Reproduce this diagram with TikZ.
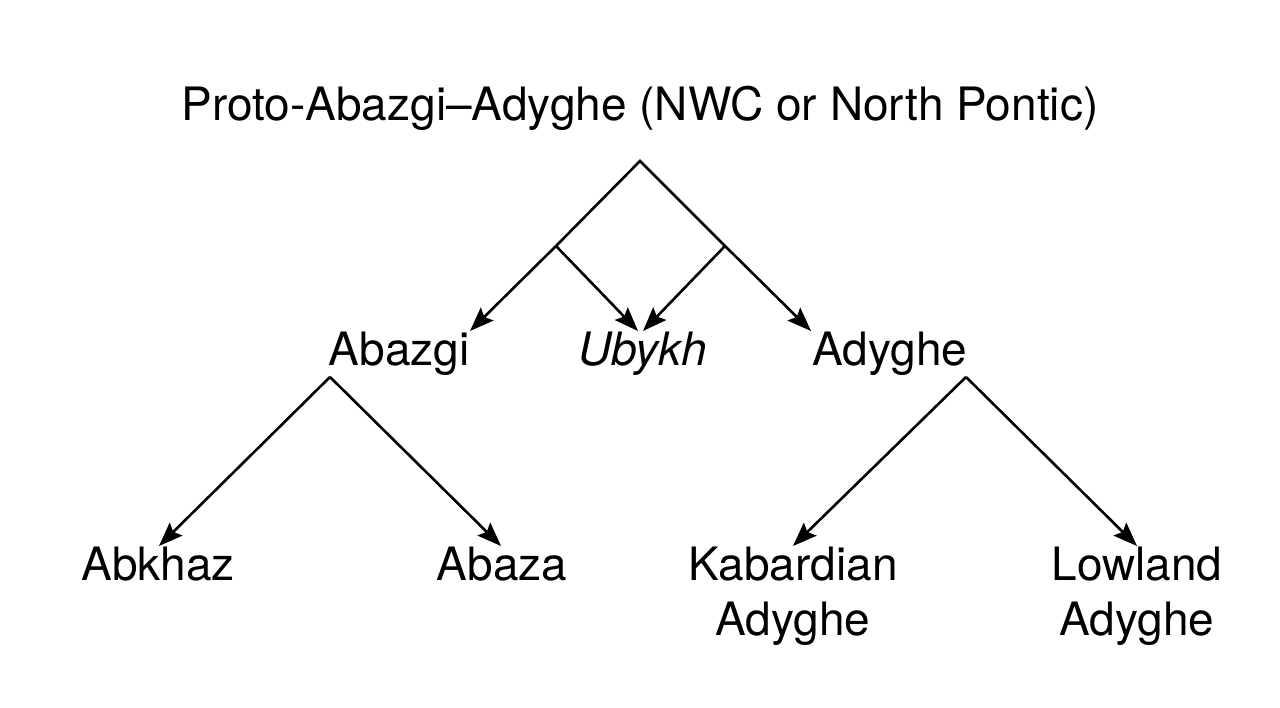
\documentclass[tikz,border=0pt]{standalone}
\usepackage{fontspec}
\setmainfont{TeX Gyre Heros}
\usetikzlibrary{arrows.meta}
\begin{document}
\begin{tikzpicture}[x=1pt,y=-1pt,
  lbl/.style={anchor=base,inner sep=0pt,font=\fontsize{46}{55}\selectfont,align=center},
  conn/.style={line width=2.6pt,line join=miter},
  arr/.style={conn,-{Stealth[length=24pt,width=18pt,inset=4pt]}}]
\useasboundingbox (0,0) rectangle (1280,708);
\node[lbl] (title) at (640,121) {Proto-Abazgi–Adyghe (NWC or North Pontic)};
\node[lbl] (abazgi) at (399,366) {Abazgi};
\node[lbl] (ubykh) at (643,366) {\itshape Ubykh};
\node[lbl] (adyghe) at (890,366) {Adyghe};
\node[lbl] (abkhaz) at (158,580) {Abkhaz};
\node[lbl] (abaza) at (502,580) {Abaza};
\node[lbl] (kabardian) at (793,635) {Kabardian\\Adyghe};
\node[lbl] (lowland) at (1137,635) {Lowland\\Adyghe};
\coordinate (apex) at (640,161);
\coordinate (bl) at (556,246);
\coordinate (br) at (725,246);
\coordinate (tabazgi) at (470,331);
\coordinate (tubl) at (638,331);
\coordinate (tubr) at (643,331);
\coordinate (tadyghe) at (811,331);
\coordinate (sabazgi) at (330,377);
\coordinate (sadyghe) at (966,377);
\coordinate (tabkhaz) at (159,546);
\coordinate (tabaza) at (501,546);
\coordinate (tkab) at (793,546);
\coordinate (tlow) at (1137,546);
\draw[conn] (bl) -- (apex) -- (br);
\draw[arr] (bl) -- (tabazgi);
\draw[arr] (bl) -- (tubl);
\draw[arr] (br) -- (tubr);
\draw[arr] (br) -- (tadyghe);
\draw[arr] (sabazgi) -- (tabkhaz);
\draw[arr] (sabazgi) -- (tabaza);
\draw[arr] (sadyghe) -- (tkab);
\draw[arr] (sadyghe) -- (tlow);
\end{tikzpicture}
\end{document}
